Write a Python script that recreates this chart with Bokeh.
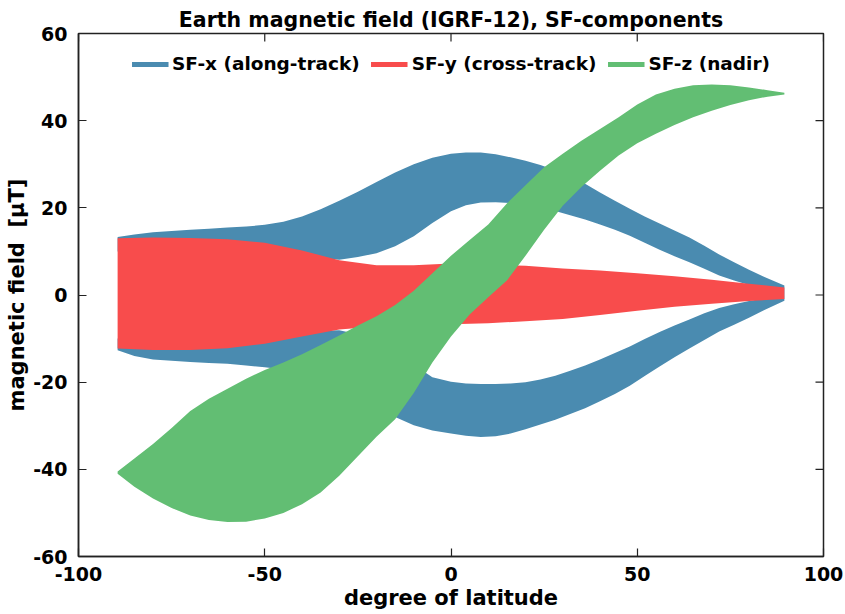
import math
from bokeh.plotting import figure
from bokeh.models import (SingleIntervalTicker, Range1d, Legend, LegendItem, ColumnDataSource)
from bokeh.embed import file_html
from bokeh.resources import INLINE

# ---------------- data ----------------
title_text = "Earth magnetic field (IGRF-12), SF-components"
series_names = ["SF-x (along-track)", "SF-y (cross-track)", "SF-z (nadir)"]

# SF-x : envelope of the oscillating along-track component (upper and lower lobes)
x_lat = [-89.5, -85, -80, -75, -70, -65, -60, -55, -50, -45, -40, -35, -30, -25, -20, -15, -10, -5, 0,
         4, 8, 12, 16, 20, 24, 28, 32, 36, 40, 44, 48, 52, 56, 60, 64, 68, 72, 76, 80, 84, 89.5]
x_up_outer = [13.3, 13.9, 14.4, 14.7, 15.0, 15.2, 15.5, 15.7, 16.1, 16.8, 18.0, 19.7, 21.6, 23.7, 25.9, 28.1, 30.0, 31.5, 32.4,
              32.7, 32.7, 32.3, 31.6, 30.8, 29.8, 28.6, 27.2, 25.5, 23.5, 21.6, 19.8, 18.0, 16.4, 14.8, 13.2, 11.3, 9.3, 7.5, 5.8, 4.2, 2.2]
x_up_inner = [10.0, 10.0, 10.0, 10.0, 10.0, 10.0, 10.0, 10.0, 10.0, 9.5, 9.0, 8.5, 8.1, 8.7, 9.6, 11.2, 13.5, 16.5, 19.2,
              20.6, 21.2, 21.3, 21.1, 20.8, 20.2, 19.3, 18.3, 17.3, 16.2, 15.0, 13.6, 12.0, 10.4, 8.9, 7.5, 6.0, 4.5, 3.3, 2.3, 1.3, 0.0]
x_lo_inner = [-10.0, -10.0, -10.0, -10.0, -10.0, -10.0, -10.0, -10.0, -9.5, -9.0, -8.5, -8.2, -8.1, -9.0, -10.5, -13.0, -16.0, -18.9, -19.9,
              -20.3, -20.4, -20.4, -20.3, -20.0, -19.4, -18.5, -17.4, -16.2, -14.8, -13.3, -11.8, -10.1, -8.5, -7.0, -5.6, -4.2, -3.0, -2.1, -1.4, -0.8, 0.0]
x_lo_outer = [-12.7, -14.0, -14.8, -15.1, -15.4, -15.6, -15.8, -16.2, -16.6, -17.1, -18.0, -19.5, -21.4, -23.5, -25.8, -28.0, -29.9, -31.1, -31.8,
              -32.3, -32.6, -32.4, -31.8, -30.8, -29.7, -28.6, -27.3, -26.0, -24.4, -22.7, -20.8, -18.6, -16.4, -14.3, -12.3, -10.3, -8.4, -6.8, -5.2, -3.5, -1.3]

# SF-y : cross-track component envelope
y_lat = [-89.5, -80, -70, -60, -50, -40, -30, -20, -10, 0, 10, 20, 30, 40, 50, 60, 70, 80, 89.5]
y_upper = [13.0, 13.2, 13.1, 12.8, 12.0, 10.2, 8.0, 6.8, 6.8, 7.2, 7.0, 6.7, 6.1, 5.6, 5.0, 4.3, 3.5, 2.6, 1.7]
y_lower = [-12.3, -12.6, -12.6, -12.2, -11.2, -9.5, -7.9, -7.2, -6.9, -6.7, -6.5, -6.0, -5.5, -4.6, -3.6, -2.7, -2.0, -1.4, -0.9]

# SF-z : nadir component envelope
z_lat = [-89.5, -85, -80, -75, -70, -65, -60, -55, -50, -45, -40, -35, -30, -25, -20, -15, -10, -5, 0,
         5, 10, 15, 20, 25, 30, 35, 40, 45, 50, 55, 60, 65, 70, 75, 80, 85, 89.5]
z_upper = [-40.5, -37.5, -34.2, -30.5, -26.6, -23.8, -21.5, -19.2, -17.2, -15.5, -13.6, -11.5, -9.3, -7.0, -4.9, -2.3, 1.0, 5.0, 9.0,
           12.6, 16.2, 21.0, 25.2, 29.3, 32.4, 35.4, 38.1, 40.8, 43.7, 46.0, 47.3, 48.1, 48.3, 48.1, 47.6, 47.0, 46.4]
z_lower = [-41.0, -44.0, -46.7, -48.9, -50.6, -51.6, -52.1, -52.0, -51.3, -50.0, -48.0, -45.3, -41.5, -37.0, -32.5, -28.5, -22.5, -15.5, -9.5,
           -4.5, -0.5, 3.3, 9.0, 15.0, 20.5, 24.8, 28.5, 32.0, 34.8, 37.0, 39.0, 40.8, 42.3, 43.6, 44.7, 45.5, 46.0]

x_ticks = [-100, -50, 0, 50, 100]
y_ticks = [-60, -40, -20, 0, 20, 40, 60]

# ---------------- style ----------------
C_X = "#4a8bb0"
C_Y = "#f84c4c"
C_Z = "#62be73"
AX = "#222222"
FONT = "DejaVu Sans"

p = figure(width=845, height=614, output_backend="svg", toolbar_location=None,
           x_range=Range1d(x_ticks[0], x_ticks[-1]), y_range=Range1d(y_ticks[0], y_ticks[-1]),
           min_border_left=78, min_border_right=22, min_border_top=33, min_border_bottom=58)

p.title.text = title_text
p.title.align = "center"
p.title.text_font = FONT
p.title.text_font_size = "20.5px"
p.title.text_font_style = "bold"
p.title.text_color = "black"
p.title.standoff = 4
p.title.offset = 0

p.grid.visible = False
p.outline_line_color = AX
p.outline_line_width = 1.5
p.background_fill_color = "white"
p.border_fill_color = "white"

# bands
p.varea(x=x_lat, y1=x_up_inner, y2=x_up_outer, fill_color=C_X)
p.varea(x=x_lat, y1=x_lo_outer, y2=x_lo_inner, fill_color=C_X)
p.varea(x=y_lat, y1=y_lower, y2=y_upper, fill_color=C_Y)
p.varea(x=z_lat, y1=z_lower, y2=z_upper, fill_color=C_Z)

# mirrored inward ticks on the top and right frame edges (clipped to the frame)
p.scatter(x=x_ticks, y=[p.y_range.end] * len(x_ticks), marker="dash", size=16,
          angle=math.pi / 2, line_color=AX, line_width=1.2)
p.scatter(x=[p.x_range.end] * len(y_ticks), y=y_ticks, marker="dash", size=16,
          line_color=AX, line_width=1.2)

# legend glyphs (thick lines, nothing drawn in the plot area)
nan = float("nan")
items = []
for name, col in zip(series_names, [C_X, C_Y, C_Z]):
    r = p.line(x="x", y="y", source=ColumnDataSource(dict(x=[nan, nan], y=[nan, nan])),
               line_color=col, line_width=5)
    items.append(LegendItem(label=name, renderers=[r]))
legend = Legend(items=items, orientation="horizontal", location="top_center")
legend.border_line_alpha = 0
legend.background_fill_alpha = 0
legend.label_text_font = FONT
legend.label_text_font_style = "bold"
legend.label_text_font_size = "18.5px"
legend.label_text_color = "black"
legend.glyph_width = 37
legend.glyph_height = 20
legend.label_standoff = 4
legend.spacing = 11
legend.padding = 8
legend.margin = 12
p.add_layout(legend, "center")

def style_axis(ax):
    ax.axis_line_color = AX
    ax.axis_line_width = 1.5
    ax.major_tick_in = 8
    ax.major_tick_out = 0
    ax.major_tick_line_color = AX
    ax.major_tick_line_width = 1.2
    ax.minor_tick_line_color = None
    ax.major_label_text_font = FONT
    ax.major_label_text_font_style = "bold"
    ax.major_label_text_font_size = "19px"
    ax.major_label_text_color = "black"
    ax.axis_label_text_font = FONT
    ax.axis_label_text_font_style = "bold"
    ax.axis_label_text_font_size = "21px"
    ax.axis_label_text_color = "black"

p.xaxis.ticker = SingleIntervalTicker(interval=50)
p.yaxis.ticker = SingleIntervalTicker(interval=20)
style_axis(p.xaxis[0])
style_axis(p.yaxis[0])
p.xaxis.major_label_overrides = {v: str(v) for v in x_ticks}
p.yaxis.major_label_overrides = {v: str(v) for v in y_ticks}
p.xaxis.axis_label = "degree of latitude"
p.yaxis.axis_label = "magnetic field\u00a0 [\u03bcT]"
p.xaxis.major_label_standoff = 6
p.yaxis.major_label_standoff = 7
p.xaxis.axis_label_standoff = 2
p.yaxis.axis_label_standoff = 1

open("out.html", "w").write(file_html(p, INLINE))
